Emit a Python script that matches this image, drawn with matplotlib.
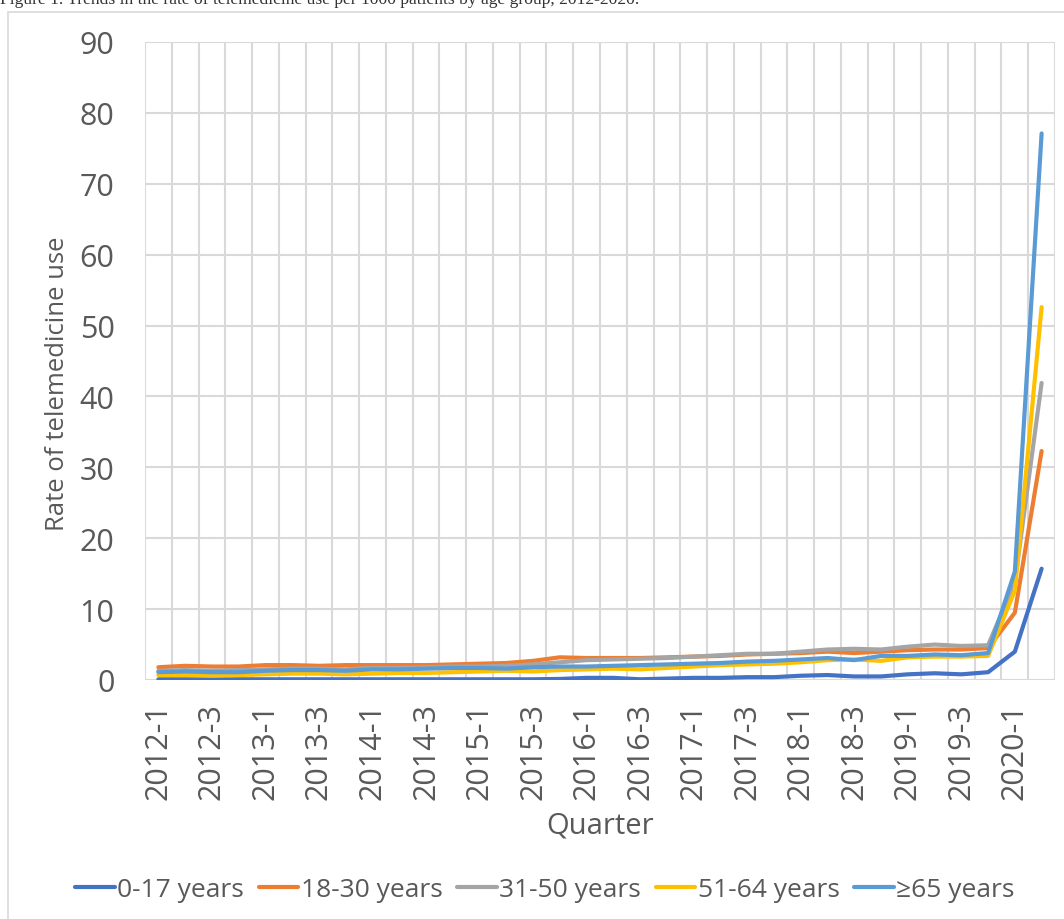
import numpy as np
import matplotlib
matplotlib.use("Agg")
import matplotlib.pyplot as plt
from matplotlib.patches import Rectangle

# quarters 2012-1 .. 2020-2
quarters = [f"{y}-{q}" for y in range(2012, 2021) for q in range(1, 5)][:34]

age_0_17 = [0.1, 0.1, 0.1, 0.1, 0.1, 0.1, 0.1, 0.1, 0.1, 0.1, 0.1, 0.1,
            0.1, 0.1, 0.1, 0.15, 0.3, 0.3, 0.1, 0.2, 0.3, 0.3, 0.4, 0.4,
            0.6, 0.7, 0.5, 0.5, 0.8, 0.95, 0.8, 1.1, 4.0, 15.7]
age_18_30 = [1.8, 2.0, 1.9, 1.9, 2.1, 2.1, 2.0, 2.1, 2.1, 2.1, 2.1, 2.2,
             2.3, 2.4, 2.7, 3.2, 3.1, 3.1, 3.1, 3.2, 3.3, 3.4, 3.6, 3.7,
             3.8, 4.0, 3.8, 4.0, 4.2, 4.3, 4.3, 4.5, 9.5, 32.3]
age_31_50 = [1.3, 1.4, 1.3, 1.4, 1.5, 1.6, 1.6, 1.5, 1.7, 1.7, 1.8, 1.9,
             1.9, 2.0, 2.2, 2.5, 2.8, 2.9, 3.0, 3.1, 3.3, 3.5, 3.7, 3.7,
             4.0, 4.3, 4.4, 4.3, 4.7, 5.0, 4.8, 4.9, 13.8, 41.9]
age_51_64 = [0.7, 0.7, 0.6, 0.7, 0.8, 0.9, 0.9, 0.8, 0.9, 1.0, 1.0, 1.1,
             1.2, 1.3, 1.2, 1.4, 1.5, 1.6, 1.5, 1.7, 1.9, 2.1, 2.2, 2.3,
             2.5, 2.8, 2.9, 2.7, 3.2, 3.3, 3.3, 3.4, 12.6, 52.6]
age_65_plus = [1.1, 1.2, 1.1, 1.1, 1.3, 1.4, 1.4, 1.3, 1.5, 1.5, 1.6, 1.7,
               1.7, 1.6, 1.8, 1.9, 1.9, 2.0, 2.1, 2.2, 2.3, 2.4, 2.6, 2.7,
               2.9, 3.1, 2.8, 3.4, 3.4, 3.6, 3.5, 3.8, 15.3, 77.1]

series = [("0-17 years", age_0_17, "#4472C4"),
          ("18-30 years", age_18_30, "#ED7D31"),
          ("31-50 years", age_31_50, "#A5A5A5"),
          ("51-64 years", age_51_64, "#FFC000"),
          ("\u226565 years", age_65_plus, "#5B9BD5")]

plt.rcParams['font.family'] = ['Open Sans', 'DejaVu Sans']
txt = "#595959"
grid = "#D9D9D9"

fig = plt.figure(figsize=(10.64, 9.2), dpi=100)
ax = fig.add_axes([145/1064, 1-681/920, 910/1064, 638/920])

x = np.arange(len(quarters))
for name, vals, col in series:
    ax.plot(x, vals, color=col, lw=3, label=name, solid_capstyle='round',
            solid_joinstyle='round')

ax.set_xlim(-0.5, len(quarters) - 0.5)
ax.set_ylim(0, 90)
ax.set_yticks(range(0, 91, 10))
ax.set_xticks(x[::2])
ax.set_xticklabels(quarters[::2], rotation=90)
ax.set_xticks(np.arange(-0.5, len(quarters), 1), minor=True)
ax.grid(axis='y', color=grid, lw=1.5)
ax.grid(axis='x', which='minor', color=grid, lw=1.5)
ax.set_axisbelow(True)
for s in ax.spines.values():
    s.set_visible(False)
ax.axhline(0, color=grid, lw=1.5, zorder=0)
ax.tick_params(axis='both', which='both', length=0, colors=txt, labelsize=22)
ax.tick_params(axis='y', pad=22)
ax.tick_params(axis='x', pad=16)

ax.set_ylabel("Rate of telemedicine use", fontsize=18.5, color=txt, va='center')
ax.yaxis.set_label_coords((58-145)/910, (681-384)/638)
ax.set_xlabel("Quarter", fontsize=21, color=txt, labelpad=8)

fig.legend(loc='center', bbox_to_anchor=(545/1064, 1-891/920), ncol=5,
           frameon=False, fontsize=19, labelcolor=txt, handlelength=1.5,
           handletextpad=0.1, columnspacing=0.55)

# light frame around the chart
fig.patches.append(Rectangle((8/1064, -0.1), 1.1, 1-13/920+0.1,
                             transform=fig.transFigure, fill=False,
                             edgecolor=grid, lw=1.2))
# caption above the chart, cut off at the top edge as in the source
fig.text(0.0, 1-4/920, "Figure 1. Trends in the rate of telemedicine use per 1000 patients by age group, 2012-2020.",
         family='Liberation Serif', fontsize=12.6, color='#333333', va='baseline')

fig.savefig("out.png", dpi=100)
